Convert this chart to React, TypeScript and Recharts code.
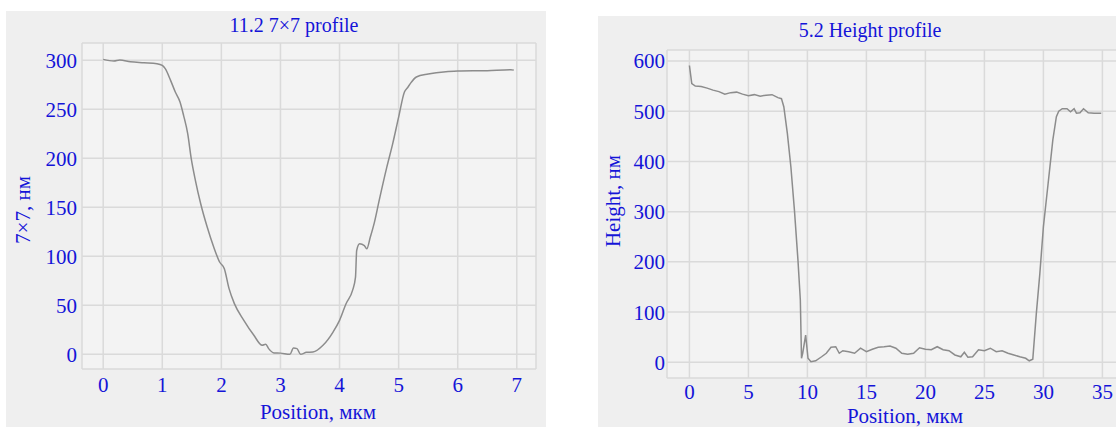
import { LineChart, Line, XAxis, YAxis, CartesianGrid } from 'recharts'

// 11.2 7x7 profile
const posA = [0, 0.18, 0.28, 0.46, 0.69, 0.91, 1.0, 1.05, 1.14, 1.22, 1.3, 1.36, 1.43, 1.49, 1.56, 1.65, 1.76, 1.87, 1.97, 2.05, 2.13, 2.22, 2.38, 2.55, 2.69, 2.75, 2.8, 2.89, 3.0, 3.16, 3.22, 3.28, 3.34, 3.44, 3.55, 3.72, 3.89, 4.0, 4.11, 4.22, 4.27, 4.29, 4.34, 4.42, 4.46, 4.52, 4.59, 4.67, 4.8, 4.9, 5.0, 5.1, 5.15, 5.2, 5.3, 5.5, 5.8, 6.0, 6.5, 6.9, 6.95]
const valA = [301, 299.3, 300.3, 298.6, 297.6, 296.6, 294.9, 291.5, 279.6, 267.7, 257.5, 243.9, 225.2, 199.7, 177.6, 153.7, 129.9, 109.5, 94.2, 87.4, 67, 51.7, 34.7, 19.4, 9.2, 10.2, 5.8, 1.4, 1.2, 0, 6.4, 5.8, 0, 2, 2.4, 9.2, 22.7, 34.6, 51.6, 65.2, 78.7, 105.9, 112.7, 111, 107.6, 119.4, 134.7, 156.8, 191, 215, 242, 268, 272, 276.5, 283, 286, 288.4, 289, 289.5, 290.5, 290]
const ticksAx = [0, 1, 2, 3, 4, 5, 6, 7]
const ticksAy = [0, 50, 100, 150, 200, 250, 300]

// 5.2 Height profile
const posB = [0, 0.2, 0.5, 1, 1.5, 2, 2.5, 3, 3.5, 4, 4.5, 5, 5.5, 6, 6.5, 7, 7.5, 7.8, 8, 8.3, 8.6, 8.9, 9.2, 9.4, 9.5, 9.6, 9.85, 10.05, 10.3, 10.7, 11.2, 11.6, 12, 12.4, 12.7, 13, 13.5, 14, 14.5, 15, 15.5, 16, 16.5, 17, 17.5, 18, 18.5, 19, 19.5, 20, 20.5, 21, 21.5, 22, 22.5, 23, 23.3, 23.6, 24, 24.5, 25, 25.5, 26, 26.5, 27, 27.5, 28, 28.5, 28.8, 29.1, 29.4, 29.7, 30, 30.4, 30.8, 31.1, 31.3, 31.6, 32, 32.3, 32.6, 32.8, 33.1, 33.4, 33.8, 34.3, 34.9]
const valB = [591, 555, 550, 549, 546, 542, 539, 534, 537, 538, 534, 531, 533, 530, 532, 533, 527, 525, 509, 456, 389, 303, 203, 124, 8, 18, 54, 8, 1, 3, 11, 18, 30, 31, 18, 23, 21, 18, 28, 21, 26, 30, 31, 32.5, 28, 18, 16, 18, 29, 26, 25, 31, 25, 23, 14.6, 11, 20, 10, 11, 25, 23, 28, 21, 23, 18, 14.6, 11, 8, 3, 6, 97, 177, 270, 356, 443, 489, 500, 505, 505, 499, 505, 496, 497, 505, 497, 496, 496]
const ticksBx = [0, 5, 10, 15, 20, 25, 30, 35]
const ticksBy = [0, 100, 200, 300, 400, 500, 600]

const dataA = posA.map((x, i) => ({ x, y: valA[i] }))
const dataB = posB.map((x, i) => ({ x, y: valB[i] }))

const FONT = "'Liberation Serif', 'Times New Roman', serif"
const BLUE = '#1414d8'
const PANEL = '#efefef'
const PLOT = '#f3f3f3'
const GRID = '#dadada'
const LINE = '#8c8c8c'

const tickStyle = { fill: BLUE, fontSize: 21, fontFamily: FONT }

function Txt({ x, y, size, rotate, children }: any) {
  return (
    <div
      style={{
        position: 'absolute',
        left: x,
        top: y,
        transform: `translate(-50%, -50%)${rotate ? ' rotate(-90deg)' : ''}`,
        whiteSpace: 'nowrap',
        fontFamily: FONT,
        fontSize: size,
        color: BLUE,
        lineHeight: 1,
      }}
    >
      {children}
    </div>
  )
}

export default function App() {
  return (
    <div style={{ position: 'absolute', left: 0, top: 0, width: 1116, height: 427, background: '#fff', overflow: 'hidden' }}>
      <div style={{ position: 'absolute', left: 6, top: 11, width: 540, height: 416, background: PANEL }}>
        <LineChart width={540} height={416} data={dataA} margin={{ top: 32, right: 10, left: 0, bottom: 0 }}>
          <CartesianGrid stroke={GRID} strokeWidth={1.5} fill={PLOT} />
          <XAxis
            type="number"
            dataKey="x"
            domain={[-0.359, 7.325]}
            ticks={ticksAx}
            allowDataOverflow
            height={58}
            axisLine={false}
            tickLine={false}
            tickSize={0}
            tickMargin={8}
            tick={tickStyle}
          />
          <YAxis
            type="number"
            domain={[-15, 317.7]}
            ticks={ticksAy}
            allowDataOverflow
            width={76}
            axisLine={false}
            tickLine={false}
            tickSize={0}
            tickMargin={5}
            tick={tickStyle}
          />
          <Line type="monotone" dataKey="y" stroke={LINE} strokeWidth={1.5} dot={false} isAnimationActive={false} />
        </LineChart>
        <Txt x={288} y={14} size={20}>11.2 7×7 profile</Txt>
        <Txt x={312} y={401} size={21}>Position, мкм</Txt>
        <Txt x={17} y={199} size={21} rotate>7×7, нм</Txt>
      </div>

      <div style={{ position: 'absolute', left: 598, top: 16, width: 518, height: 411, background: PANEL, overflow: 'hidden' }}>
        <LineChart width={530} height={411} data={dataB} margin={{ top: 34, right: 0, left: 0, bottom: 0 }}>
          <CartesianGrid stroke={GRID} strokeWidth={1.5} fill={PLOT} />
          <XAxis
            type="number"
            dataKey="x"
            domain={[-1.9, 37.17]}
            ticks={ticksBx}
            allowDataOverflow
            height={49}
            axisLine={false}
            tickLine={false}
            tickSize={0}
            tickMargin={6}
            tick={tickStyle}
          />
          <YAxis
            type="number"
            domain={[-31.3, 621.9]}
            ticks={ticksBy}
            allowDataOverflow
            width={69}
            axisLine={false}
            tickLine={false}
            tickSize={0}
            tickMargin={2}
            tick={tickStyle}
          />
          <Line type="linear" dataKey="y" stroke={LINE} strokeWidth={1.5} dot={false} isAnimationActive={false} />
        </LineChart>
        <Txt x={272} y={14} size={20}>5.2 Height profile</Txt>
        <Txt x={307} y={400} size={21}>Position, мкм</Txt>
        <Txt x={15} y={185} size={21} rotate>Height, нм</Txt>
      </div>
    </div>
  )
}
